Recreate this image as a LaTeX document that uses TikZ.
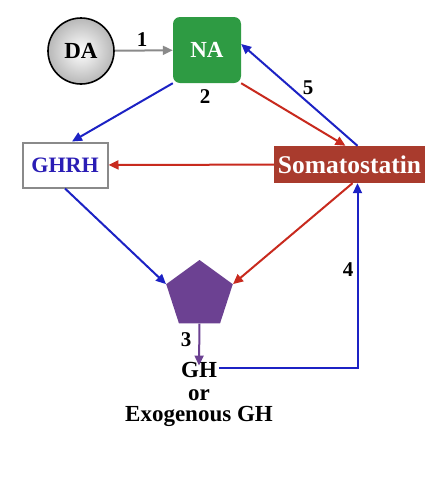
\documentclass[tikz,border=0pt]{standalone}
\usepackage{fontspec}
\setmainfont{Liberation Serif}
\usepackage{tikz}
\usetikzlibrary{arrows.meta,positioning,shapes.geometric,calc}
\definecolor{cblue}{HTML}{1C22C4}
\definecolor{cred}{HTML}{C82A1E}
\definecolor{cgray}{HTML}{8A8A8A}
\definecolor{cna}{HTML}{2E9B43}
\definecolor{csom}{HTML}{A93B2D}
\definecolor{cpent}{HTML}{6C4192}
\definecolor{cghrh}{HTML}{2A1DB5}
\tikzset{
  lbl/.style={font=\fontsize{21}{24}\selectfont\bfseries, inner sep=0pt},
  ndA/.style={circle, draw=black, line width=1.6pt, inner color=white, outer color=black!28,
              minimum size=66pt, font=\fontsize{23}{26}\selectfont\bfseries},
  nna/.style={rounded corners=7pt, fill=cna, text=white, minimum width=68pt, minimum height=66pt,
              font=\fontsize{23}{26}\selectfont\bfseries},
  nghrh/.style={draw=cgray, line width=2pt, fill=white, text=cghrh, minimum width=85pt,
                minimum height=45pt, font=\fontsize{22}{25}\selectfont\bfseries},
  nsom/.style={fill=csom, text=white, minimum width=151pt, minimum height=37pt, inner sep=2pt,
               font=\fontsize{25.5}{28}\selectfont\bfseries},
  npent/.style={regular polygon, regular polygon sides=5, fill=cpent, minimum size=70pt, inner sep=0pt},
  gtxt/.style={font=\fontsize{23}{26}\selectfont\bfseries, inner sep=0pt, anchor=base},
  flow/.style={-{Triangle[length=10pt,width=9pt]}, line width=2pt},
}
\begin{document}
\begin{tikzpicture}[x=1pt,y=-1pt]
  \useasboundingbox (0,0) rectangle (445,491);
  \node[ndA] (da) at (81,51) {DA};
  \node[nna] (na) at (207,50) {NA};
  \node[nghrh] (ghrh) at (65,165) {GHRH};
  \node[nsom] (som) at (349.5,164.5) {Somatostatin};
  \node[npent] (pent) at (199.5,295) {};
  \node[gtxt] (gh) at (199,377) {GH};
  \node[gtxt] (gor) at (199,400) {or};
  \node[gtxt] (exo) at (199,421) {Exogenous GH};
  % connectors
  \draw[flow, cgray] (da) -- (na);
  \draw[flow, cblue] (na.south west) -- ([xshift=7pt]ghrh.north);
  \draw[flow, cred] (na.south east) -- ([xshift=-4pt]som.north);
  \draw[flow, cblue] ([xshift=8pt]som.north) -- (na.10);
  \draw[flow, cred] (som) -- (ghrh);
  \draw[flow, cblue] (ghrh.south) -- (pent.corner 2);
  \draw[flow, cred] ([xshift=3pt]som.south) -- (pent.corner 5);
  \draw[flow, cpent] (pent.south) -- ([yshift=-4pt]gh.north);
  \draw[flow, cblue] ([xshift=2pt,yshift=2pt]gh.east) -| ([xshift=8pt]som.south);
  % numbers
  \node[lbl] (n1) at (142,40) {1};
  \node[lbl] (n2) at (205,97) {2};
  \node[lbl] (n3) at (186,340) {3};
  \node[lbl] (n4) at (348,270) {4};
  \node[lbl] (n5) at (308,88) {5};
\end{tikzpicture}
\end{document}
